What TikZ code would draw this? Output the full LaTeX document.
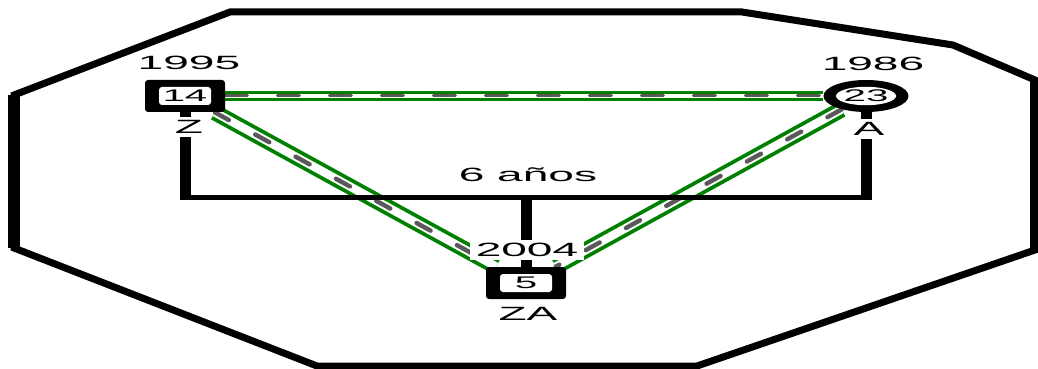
\documentclass[tikz,border=0pt]{standalone}
\usepackage{fontspec}
\setmainfont{Liberation Sans}
\usetikzlibrary{shapes.geometric, backgrounds, calc}
\newcommand{\wide}[1]{\scalebox{2.4}[1]{#1}}

\begin{document}
\begin{tikzpicture}[x=0.5pt, y=-0.5pt]
    % settings for this picture
    \tikzset{
      border/.style={line width=3.5pt, line join=miter},
      male/.style={rectangle, rounded corners=1.5pt, fill=black, inner sep=0pt,
        minimum width=40pt, minimum height=16pt, font=\fontsize{8.4}{9}\selectfont,
        path picture={\fill[white] ([shift={(7pt,3.5pt)}]path picture bounding box.south west)
          rectangle ([shift={(-7pt,-3.5pt)}]path picture bounding box.north east);}},
      female/.style={ellipse, fill=black, inner sep=0pt,
        minimum width=42.5pt, minimum height=16pt, font=\fontsize{8.4}{9}\selectfont,
        path picture={\fill[white] (path picture bounding box.center) ellipse [x radius=15pt, y radius=4.6pt];}},
      lbl/.style={font=\fontsize{9.6}{10}\selectfont, inner sep=1.5pt},
      tag/.style={lbl, fill=white, inner xsep=3pt},
      stub/.style={line width=5.5pt},
      sibs/.style={line width=2.5pt},
      fused/.style={draw=white, line width=1.9pt,
        preaction={draw=green!50!black, line width=4.8pt},
        postaction={draw=black!65, line width=1.5pt, line cap=round, dash pattern=on 11pt off 15pt}},
      fusedslant/.style={draw=white, line width=4.2pt,
        preaction={draw=green!50!black, line width=8pt},
        postaction={draw=black!65, line width=2.2pt, line cap=round, dash pattern=on 8pt off 15pt}},
    }
    \useasboundingbox (0,0) rectangle (1038,369);

    % people
    \node[male] (z) at (185,96) {\wide{14}};
    \node[female] (a) at (866,96) {\wide{23}};
    \node[male] (za) at (526,283) {\wide{5}};
    \coordinate (fork) at (526,197);

    % labels
    \node[lbl] (zyear) at (189,63) {\wide{1995}};
    \node[lbl] (ayear) at (873,64) {\wide{1986}};
    \node[tag] (zname) at (189,127) {\wide{Z}};
    \node[tag] (aname) at (869,129) {\wide{A}};
    \node[lbl] (gap) at (528,175) {\wide{6 años}};
    \node[tag] (zayear) at (527,250) {\wide{2004}};
    \node[lbl] (zaname) at (528,314) {\wide{ZA}};

    \begin{pgfonlayer}{background}
    % household frame
    \draw[border] (14,95) -- (230,12) -- (742,12) -- (953,45) -- (1035,80)
      -- (1035,250) -- (697,366) -- (317,366) -- (14,248) -- cycle;
    \draw[border, line width=6pt] (14,95) -- (14,248);
    \draw[border, line width=6pt] (1036,80) -- (1036,250);

    % relationships
    \draw[fused] (z) -- (a);
    \draw[fusedslant] (z) -- (za);
    \draw[fusedslant] (a) -- (za);

    % children line
    \draw[sibs] ($(z |- fork)+(-5.5,0)$) -- ($(a |- fork)+(5.5,0)$);
    \draw[stub, shorten >=-1.25pt] (z) -- (z |- fork);
    \draw[stub, shorten >=-1.25pt] (a) -- (a |- fork);
    \draw[stub, shorten >=-1.25pt] (za) -- (fork);
    \end{pgfonlayer}
\end{tikzpicture}
\end{document}
